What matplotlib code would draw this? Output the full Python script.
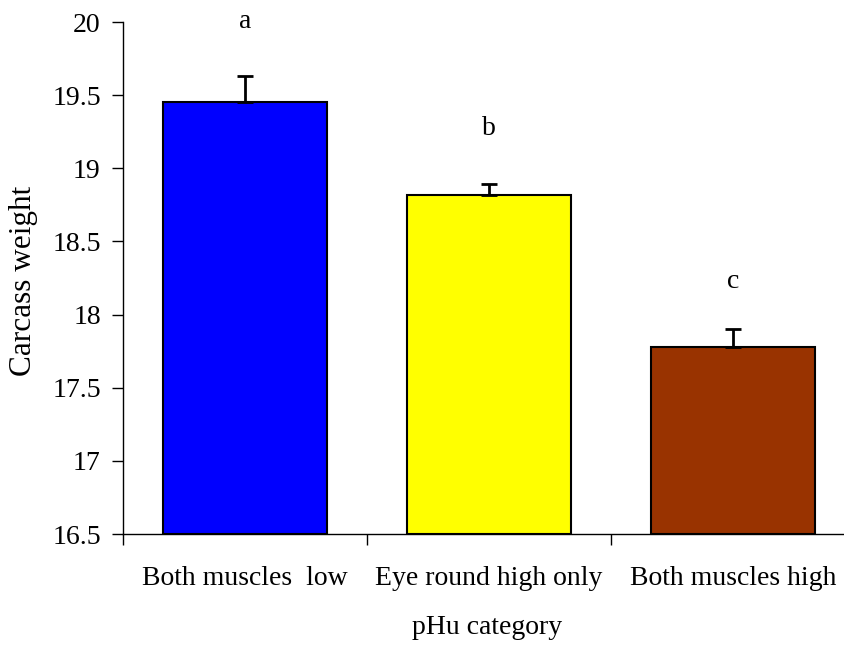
import matplotlib.pyplot as plt
import numpy as np

plt.rcParams['font.family'] = ['Liberation Serif', 'DejaVu Serif']

# Carcass weight by pHu category
categories = ["Both muscles  low", "Eye round high only", "Both muscles high"]
means = [19.45, 18.82, 17.78]
errors = [0.18, 0.07, 0.12]
letters = ["a", "b", "c"]
letter_y = [19.96, 19.23, 18.18]
colors = ["#0000FF", "#FFFF00", "#993300"]

fig = plt.figure(figsize=(8.45, 6.46), dpi=100)
ax = fig.add_axes([123/845, 112/646, 732/845, 512/646])

x = np.arange(len(categories))
ax.bar(x, [m - 16.5 for m in means], bottom=16.5, width=0.67, color=colors,
       edgecolor="black", linewidth=1.5, zorder=2)
# one-sided (upper) error bars
ax.errorbar(x, means, yerr=[[0]*len(errors), errors], fmt="none",
            ecolor="black", elinewidth=2, capsize=5.5, capthick=2, zorder=3)

# significance letters above the bars
for xi, ly, t in zip(x, letter_y, letters):
    ax.text(xi, ly, t, ha="center", va="baseline", fontsize=20)

ax.set_ylim(16.5, 20)
ax.set_xlim(-0.5, 2.5)
ax.set_yticks(np.arange(16.5, 20.01, 0.5))
ax.set_yticklabels(["16.5", "17", "17.5", "18", "18.5", "19", "19.5", "20"])
ax.set_xticks([-0.5, 0.5, 1.5, 2.5])
ax.set_xticklabels([])
ax.set_xticks(x, minor=True)
ax.set_xticklabels(categories, minor=True)
ax.tick_params(axis="x", which="minor", length=0, pad=23, labelsize=20)
ax.tick_params(axis="x", which="major", length=8, width=1, direction="out")
ax.tick_params(axis="y", length=8, width=1, direction="out", pad=8, labelsize=20)

for s in ["top", "right"]:
    ax.spines[s].set_visible(False)
ax.spines["left"].set_linewidth(1)
ax.spines["bottom"].set_linewidth(1)

fig.text(24/845, 1 - 281/646, "Carcass weight", rotation=90,
         ha="center", va="center", fontsize=22.5)
fig.text(487/845, 1 - 627/646, "pHu category", ha="center", va="center", fontsize=20)

fig.savefig("out.png", dpi=100)
